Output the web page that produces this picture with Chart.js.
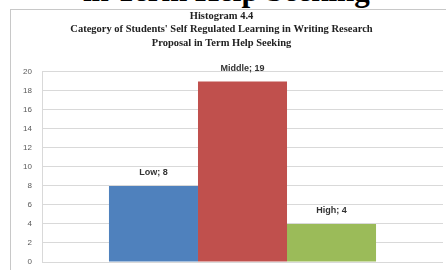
<!DOCTYPE html>
<html>
<head>
<meta charset="utf-8">
<script src="https://cdn.jsdelivr.net/npm/chart.js@4/dist/chart.umd.min.js"></script>
<style>
  html, body { margin: 0; padding: 0; background: #fff; }
  #wrap { position: relative; width: 446px; height: 270px; overflow: hidden; }
  #marco { position: absolute; left: 10px; top: 9px; width: 500px; height: 300px; border: 1px solid #c8c8c8; }
  #cabecera { position: absolute; left: 83px; top: -25px; font: bold 31px "Liberation Serif", serif; line-height: 31px; color: #000; white-space: nowrap; }
  canvas { position: absolute; left: 0; top: 0; }
</style>
</head>
<body>
<div id="wrap">
  <div id="marco"></div>
  <div id="cabecera">in Term Help Seeking</div>
  <canvas id="grafico" width="446" height="270"></canvas>
</div>
<script>
// datos del histograma
const categorias = ["Low", "Middle", "High"];
const valores = [8, 19, 4];
const colores = ["#4f81bd", "#c0504d", "#9bbb59"];
const ticksY = [0, 2, 4, 6, 8, 10, 12, 14, 16, 18, 20];
const titulo = [
  "Histogram 4.4",
  "Category of Students' Self Regulated Learning in Writing Research",
  "Proposal in Term Help Seeking"
];

// etiquetas tipo "Low; 8" encima de cada barra
const etiquetas = {
  id: "etiquetas",
  afterDatasetsDraw(chart) {
    const ctx = chart.ctx;
    ctx.save();
    ctx.font = "bold 9px 'Liberation Sans', sans-serif";
    ctx.fillStyle = "#333";
    ctx.textAlign = "center";
    ctx.textBaseline = "middle";
    chart.data.datasets.forEach((ds, i) => {
      const bar = chart.getDatasetMeta(i).data[0];
      ctx.fillText(ds.label + "; " + ds.data[0], bar.x, bar.y - 13);
    });
    ctx.restore();
  }
};

new Chart(document.getElementById("grafico"), {
  type: "bar",
  data: {
    labels: [""],
    datasets: categorias.map((c, i) => ({
      label: c,
      data: [valores[i]],
      backgroundColor: colores[i],
      borderWidth: 0,
      categoryPercentage: 0.666,
      barPercentage: 1
    }))
  },
  options: {
    responsive: false,
    animation: false,
    layout: { autoPadding: false, padding: { left: 0, right: 3, top: 0, bottom: 8 } },
    plugins: {
      legend: { display: false },
      tooltip: { enabled: false },
      title: {
        display: true,
        text: titulo,
        color: "#222",
        font: { family: "'Liberation Serif', serif", size: 10.5, weight: "bold", lineHeight: 1.3 },
        padding: { top: 9, bottom: 22 }
      }
    },
    scales: {
      x: { display: false },
      y: {
        min: 0,
        max: 20,
        afterBuildTicks: (s) => { s.ticks = ticksY.map(v => ({ value: v })); },
        afterFit: (s) => { s.width = 42; },
        ticks: { color: "#595959", font: { family: "'Liberation Sans', sans-serif", size: 8 }, padding: 2 },
        grid: { color: "#d9d9d9", tickLength: 8, tickColor: "rgba(0,0,0,0)" },
        border: { color: "#d9d9d9" }
      }
    }
  },
  plugins: [etiquetas]
});
</script>
</body>
</html>
